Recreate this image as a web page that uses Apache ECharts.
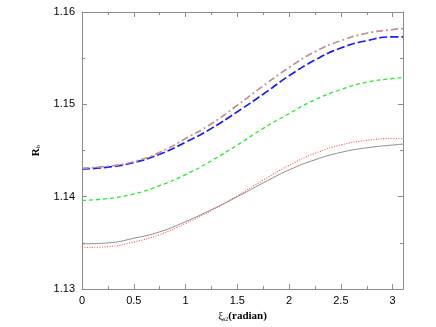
<!DOCTYPE html>
<html>
<head>
<meta charset="utf-8">
<script src="https://cdn.jsdelivr.net/npm/echarts@6/dist/echarts.min.js"></script>
<style>
html,body{margin:0;padding:0;background:#fff;}
#chart{width:436px;height:327px;}
</style>
</head>
<body>
<div id="chart"></div>
<script>
// x values (radian)
var xs = [0, 0.25, 0.5, 0.75, 1, 1.25, 1.5, 1.75, 2, 2.25, 2.5, 2.75, 3, 3.1];

// curves
var brownVals = [1.1431, 1.1433, 1.1438, 1.1448, 1.1463, 1.1479, 1.1499, 1.1520, 1.1540, 1.1557, 1.1569, 1.1577, 1.1581, 1.1582];
var blueVals  = [1.1430, 1.1432, 1.1437, 1.1446, 1.1459, 1.1474, 1.1492, 1.1511, 1.1531, 1.1548, 1.1561, 1.1569, 1.1573, 1.1573];
var greenVals = [1.1396, 1.1398, 1.1403, 1.1412, 1.1424, 1.1439, 1.1456, 1.1474, 1.1490, 1.1505, 1.1516, 1.1524, 1.1528, 1.1529];
var redVals   = [1.1345, 1.1346, 1.1351, 1.1359, 1.1371, 1.1385, 1.1401, 1.1418, 1.1434, 1.1447, 1.1456, 1.1461, 1.1463, 1.1463];
var grayVals  = [1.1349, 1.1350, 1.1355, 1.1362, 1.1373, 1.1386, 1.1400, 1.1415, 1.1429, 1.1440, 1.1448, 1.1453, 1.1456, 1.1457];

function pairs(vals){
	var out = [];
	for(var i=0;i<xs.length;i++){
		out.push([xs[i], vals[i]]);
	}
	return out;
}

var axisGray = '#8c8c8c';
var labelFont = {color:'#000', fontSize:11, fontFamily:'Liberation Sans, Arial, sans-serif'};

function mkLine(vals, color, width, dash){
	return {
		type:'line',
		data:pairs(vals),
		symbol:'none',
		smooth:true,
		xAxisIndex:0,
		yAxisIndex:0,
		lineStyle:{color:color, width:width, type:dash},
		z:3
	};
}

var chart = echarts.init(document.getElementById('chart'));

var option = {
	animation:false,
	backgroundColor:'#fff',
	grid:{left:82, right:33, top:12, bottom:27},
	xAxis:[
		{
			type:'value', min:0, max:3.1, interval:0.5, position:'bottom',
			axisLine:{show:true, onZero:false, lineStyle:{color:axisGray}},
			axisTick:{show:true, inside:true, length:5, lineStyle:{color:axisGray}},
			minorTick:{show:true, splitNumber:2, length:3, lineStyle:{color:axisGray}},
			splitLine:{show:false},
			axisLabel:Object.assign({margin:6, showMaxLabel:false, formatter:function(v){return String(v);}}, labelFont),
			name:'{xi|ξ}{sub|s2}{rad|(radian)}',
			nameLocation:'middle',
			nameGap:17,
			nameTextStyle:{
				rich:{
					xi:{fontSize:11, fontFamily:'Liberation Serif, serif', color:'#000'},
					sub:{fontSize:6, fontFamily:'Liberation Serif, serif', color:'#000', verticalAlign:'bottom', padding:[4,0,0,0]},
					rad:{fontSize:11, fontWeight:'bold', fontFamily:'Liberation Serif, serif', color:'#000'}
				}
			}
		},
		{
			type:'value', min:0, max:3.1, interval:0.5, position:'top',
			axisLine:{show:true, onZero:false, lineStyle:{color:axisGray}},
			axisTick:{show:true, inside:true, length:5, lineStyle:{color:axisGray}},
			minorTick:{show:true, splitNumber:2, length:3, lineStyle:{color:axisGray}},
			splitLine:{show:false},
			axisLabel:{show:false}
		}
	],
	yAxis:[
		{
			type:'value', min:1.13, max:1.16, interval:0.01, position:'left',
			axisLine:{show:true, onZero:false, lineStyle:{color:axisGray}},
			axisTick:{show:true, inside:true, length:5, lineStyle:{color:axisGray}},
			minorTick:{show:true, splitNumber:2, length:3, lineStyle:{color:axisGray}},
			splitLine:{show:false},
			axisLabel:Object.assign({margin:7, formatter:function(v){return v.toFixed(2);}}, labelFont),
			name:'{r|R}{sub|b}',
			nameLocation:'middle',
			nameGap:40,
			nameRotate:90,
			nameTextStyle:{
				rich:{
					r:{fontSize:11, fontWeight:'bold', fontFamily:'Liberation Serif, serif', color:'#000'},
					sub:{fontSize:7, fontFamily:'Liberation Serif, serif', color:'#000', verticalAlign:'bottom', padding:[4,0,0,0]}
				}
			}
		},
		{
			type:'value', min:1.13, max:1.16, interval:0.01, position:'right',
			axisLine:{show:true, onZero:false, lineStyle:{color:axisGray}},
			axisTick:{show:true, inside:true, length:5, lineStyle:{color:axisGray}},
			minorTick:{show:true, splitNumber:2, length:3, lineStyle:{color:axisGray}},
			splitLine:{show:false},
			axisLabel:{show:false}
		}
	],
	series:[
		mkLine(grayVals,  '#808080', 0.9, 'solid'),
		mkLine(redVals,   '#ff5050', 1.1, [1,1.5]),
		mkLine(greenVals, '#22ee22', 1.3, [4,3]),
		mkLine(blueVals,  '#1a1aff', 1.7, [8,3]),
		mkLine(brownVals, '#c09090', 1.7, [7,3,2,3])
	]
};

chart.setOption(option);
</script>
</body>
</html>
